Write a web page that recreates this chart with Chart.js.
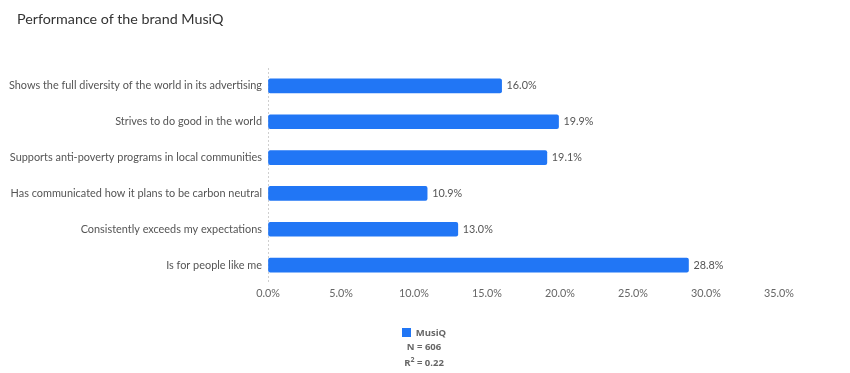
<!DOCTYPE html>
<html>
<head>
<meta charset="utf-8">
<script src="https://cdn.jsdelivr.net/npm/chart.js@4"></script>
<style>
  body { margin: 0; background: #fff; font-family: Lato, sans-serif; }
  #wrap { position: relative; width: 850px; height: 373px; }
  #title { position: absolute; left: 17px; top: 10px; font-size: 14.3px; color: #333; }
  #legend { position: absolute; left: 0; width: 850px; top: 326px; text-align: center; font-family: "Open Sans", sans-serif; font-size: 9.5px; font-weight: bold; color: #666; line-height: 14px; }
  #legend .sw { display: inline-block; width: 9px; height: 9px; background: #2176f5; margin-right: 5px; vertical-align: -1px; }
  #legend .row { position: relative; left: -1px; height: 14px; }
  #legend sup { font-size: 7px; line-height: 0; }
</style>
</head>
<body>
<div id="wrap">
  <canvas id="chart" width="850" height="373"></canvas>
  <div id="title">Performance of the brand MusiQ</div>
  <div id="legend">
    <div class="row"><span class="sw"></span>MusiQ</div>
    <div class="row">N = 606</div>
    <div class="row" style="margin-top:2px">R<sup>2</sup> = 0.22</div>
  </div>
</div>
<script>
const categories = [
  "Shows the full diversity of the world in its advertising",
  "Strives to do good in the world",
  "Supports anti-poverty programs in local communities",
  "Has communicated how it plans to be carbon neutral",
  "Consistently exceeds my expectations",
  "Is for people like me"
];
const musiqValues = [16.0, 19.9, 19.1, 10.9, 13.0, 28.8];
const xTicks = [0, 5, 10, 15, 20, 25, 30, 35];

const barLabels = {
  id: "barLabels",
  afterDatasetsDraw(chart) {
    const ctx = chart.ctx;
    ctx.save();
    ctx.font = "10.8px Lato";
    ctx.fillStyle = "#555";
    ctx.textBaseline = "middle";
    chart.getDatasetMeta(0).data.forEach((bar, i) => {
      ctx.fillText(musiqValues[i].toFixed(1) + "%", bar.x + 5, bar.y);
    });
    ctx.restore();
  }
};

new Chart(document.getElementById("chart"), {
  type: "bar",
  data: {
    labels: categories,
    datasets: [
      {
        label: "MusiQ",
        data: musiqValues,
        backgroundColor: "#2176f5",
        borderColor: "#2176f5",
        borderRadius: 2,
        borderSkipped: false,
        barThickness: 14
      }
    ]
  },
  plugins: [barLabels],
  options: {
    indexAxis: "y",
    responsive: false,
    animation: false,
    layout: { padding: { top: 68, right: 71, bottom: 66, left: 0 } },
    plugins: {
      legend: { display: false },
      tooltip: { enabled: false }
    },
    scales: {
      x: {
        min: 0,
        max: 35,
        afterBuildTicks: (scale) => {
          scale.ticks = xTicks.map((v) => ({ value: v }));
        },
        afterFit: (scale) => { scale.height = 24; },
        ticks: {
          color: "#666",
          font: { family: "Lato", size: 10.8 },
          padding: 4,
          callback: (v) => v.toFixed(1) + "%"
        },
        grid: {
          drawTicks: false,
          color: (c) => (c.tick && c.tick.value === 0 ? "#cfcfcf" : "transparent")
        },
        border: { display: false, dash: [2, 2] }
      },
      y: {
        afterFit: (scale) => { scale.width = 268; },
        ticks: {
          color: "#555",
          font: { family: "Lato", size: 10.9 },
          padding: 6
        },
        grid: { display: false, drawTicks: false },
        border: { display: false }
      }
    }
  }
});
</script>
</body>
</html>
